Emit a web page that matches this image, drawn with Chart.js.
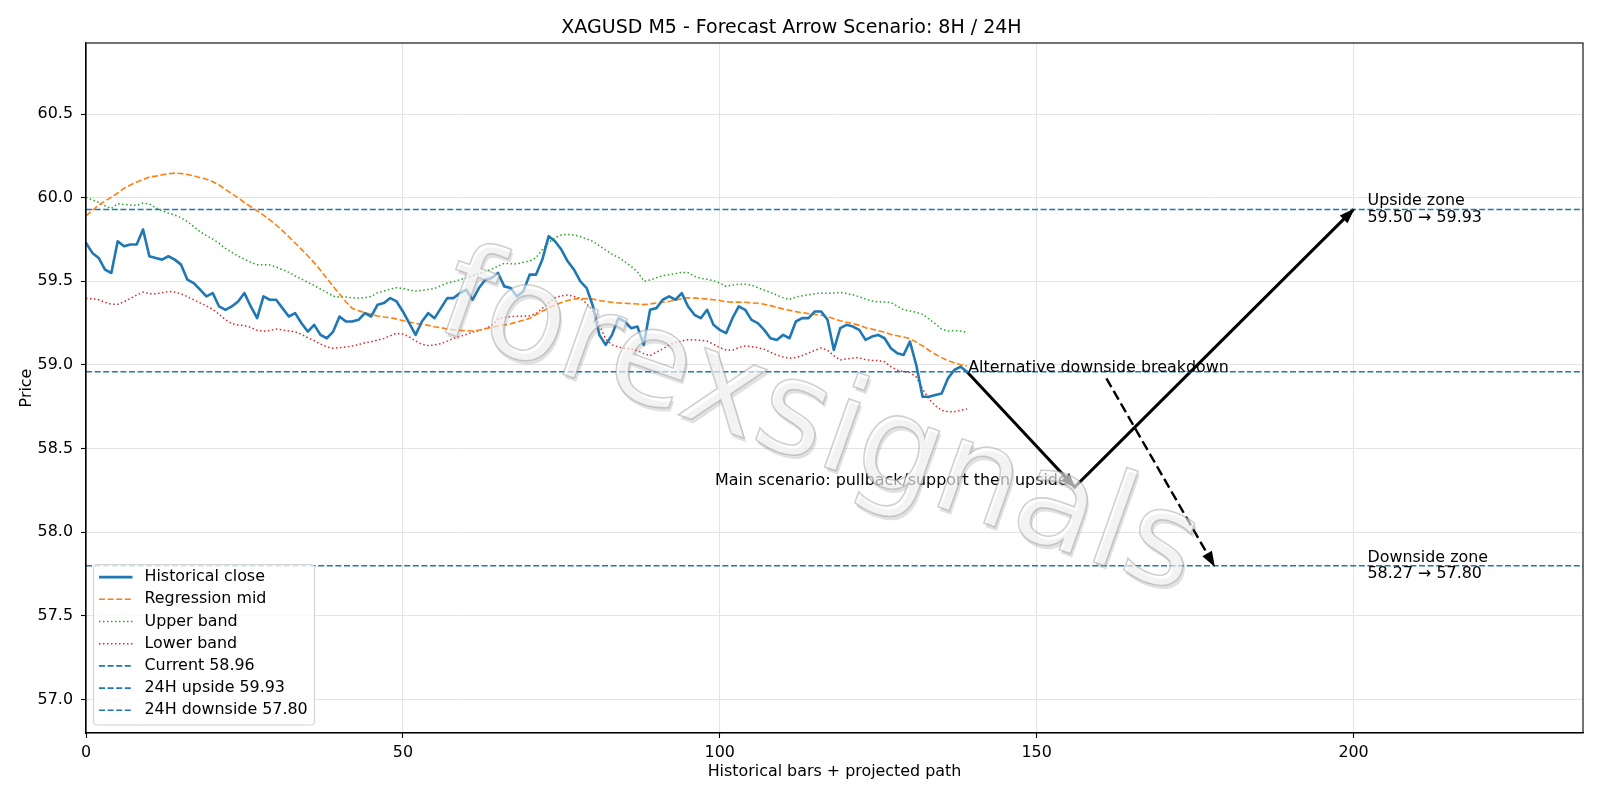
<!DOCTYPE html>
<html>
<head>
<meta charset="utf-8">
<script src="https://cdn.jsdelivr.net/npm/chart.js@4.4.1/dist/chart.umd.min.js"></script>
<style>
  html, body { margin: 0; padding: 0; background: #fff; }
</style>
</head>
<body>
<canvas id="myChart" width="1600" height="800"></canvas>
<script>
// values
const histClose = [
  59.73, 59.67, 59.64, 59.57, 59.55, 59.74, 59.71, 59.72, 59.72, 59.81,
  59.65, 59.64, 59.63, 59.65, 59.63, 59.60, 59.51, 59.49, 59.45, 59.41,
  59.43, 59.35, 59.33, 59.35, 59.38, 59.43, 59.35, 59.28, 59.41, 59.39,
  59.39, 59.34, 59.29, 59.31, 59.25, 59.20, 59.24, 59.18, 59.16, 59.20,
  59.29, 59.26, 59.26, 59.27, 59.31, 59.29, 59.36, 59.37, 59.40, 59.38,
  59.32, 59.25, 59.18, 59.26, 59.31, 59.28, 59.34, 59.40, 59.40, 59.43,
  59.45, 59.39, 59.46, 59.51, 59.52, 59.55, 59.47, 59.46, 59.41, 59.44,
  59.54, 59.54, 59.63, 59.77, 59.74, 59.69, 59.62, 59.57, 59.50, 59.46,
  59.35, 59.18, 59.12, 59.18, 59.28, 59.26, 59.22, 59.23, 59.12, 59.33,
  59.34, 59.39, 59.41, 59.39, 59.43, 59.35, 59.30, 59.28, 59.33, 59.24,
  59.21, 59.19, 59.28, 59.35, 59.33, 59.27, 59.25, 59.21, 59.16, 59.15,
  59.18, 59.16, 59.26, 59.28, 59.28, 59.32, 59.32, 59.27, 59.09, 59.22,
  59.24, 59.23, 59.21, 59.15, 59.17, 59.18, 59.16, 59.10, 59.07, 59.06,
  59.14, 59.00, 58.81, 58.81, 58.82, 58.83, 58.92, 58.97, 58.99, 58.96
];
const regressionMid = [
  59.892, 59.924, 59.956, 59.980, 60.004, 60.028, 60.056, 60.076, 60.094, 60.108,
  60.124, 60.129, 60.137, 60.143, 60.147, 60.145, 60.139, 60.131, 60.120, 60.110,
  60.096, 60.076, 60.050, 60.024, 60.000, 59.970, 59.946, 59.922, 59.896, 59.867,
  59.837, 59.803, 59.767, 59.729, 59.691, 59.653, 59.612, 59.566, 59.518, 59.470,
  59.424, 59.378, 59.339, 59.325, 59.313, 59.303, 59.293, 59.287, 59.283, 59.275,
  59.265, 59.257, 59.249, 59.243, 59.237, 59.229, 59.223, 59.215, 59.211, 59.207,
  59.205, 59.203, 59.209, 59.217, 59.225, 59.233, 59.239, 59.247, 59.257, 59.267,
  59.279, 59.301, 59.321, 59.341, 59.359, 59.373, 59.386, 59.394, 59.398, 59.396,
  59.394, 59.386, 59.380, 59.375, 59.371, 59.369, 59.367, 59.365, 59.361, 59.365,
  59.371, 59.375, 59.380, 59.388, 59.396, 59.402, 59.400, 59.398, 59.394, 59.390,
  59.386, 59.378, 59.376, 59.376, 59.375, 59.371, 59.369, 59.363, 59.355, 59.345,
  59.335, 59.327, 59.319, 59.313, 59.307, 59.303, 59.297, 59.289, 59.277, 59.265,
  59.255, 59.247, 59.237, 59.223, 59.215, 59.205, 59.195, 59.183, 59.175, 59.167,
  59.157, 59.137, 59.114, 59.088, 59.064, 59.044, 59.026, 59.014, 59.002, 58.994
];
const upperBand = [
  60.002, 59.988, 59.972, 59.952, 59.936, 59.964, 59.960, 59.956, 59.954, 59.968,
  59.962, 59.940, 59.922, 59.908, 59.896, 59.880, 59.857, 59.827, 59.797, 59.773,
  59.753, 59.727, 59.697, 59.673, 59.651, 59.633, 59.614, 59.600, 59.600, 59.598,
  59.586, 59.570, 59.554, 59.532, 59.514, 59.494, 59.476, 59.454, 59.434, 59.412,
  59.406, 59.406, 59.402, 59.400, 59.402, 59.410, 59.432, 59.442, 59.454, 59.462,
  59.458, 59.448, 59.442, 59.446, 59.452, 59.458, 59.474, 59.490, 59.498, 59.510,
  59.522, 59.534, 59.546, 59.558, 59.574, 59.590, 59.608, 59.606, 59.604, 59.614,
  59.622, 59.641, 59.689, 59.731, 59.761, 59.777, 59.781, 59.777, 59.767, 59.753,
  59.739, 59.713, 59.687, 59.663, 59.643, 59.618, 59.590, 59.558, 59.502, 59.508,
  59.522, 59.534, 59.540, 59.546, 59.554, 59.552, 59.530, 59.518, 59.512, 59.504,
  59.490, 59.470, 59.478, 59.482, 59.482, 59.478, 59.462, 59.448, 59.434, 59.418,
  59.402, 59.392, 59.406, 59.414, 59.420, 59.426, 59.430, 59.428, 59.430, 59.434,
  59.428, 59.420, 59.408, 59.394, 59.382, 59.378, 59.376, 59.374, 59.351, 59.331,
  59.323, 59.315, 59.303, 59.275, 59.247, 59.215, 59.203, 59.205, 59.203, 59.195
];
const lowerBand = [
  59.398, 59.396, 59.390, 59.375, 59.363, 59.363, 59.378, 59.398, 59.418, 59.436,
  59.426, 59.426, 59.432, 59.440, 59.436, 59.426, 59.408, 59.390, 59.371, 59.353,
  59.333, 59.303, 59.271, 59.247, 59.239, 59.235, 59.225, 59.207, 59.201, 59.207,
  59.215, 59.209, 59.203, 59.199, 59.183, 59.163, 59.145, 59.125, 59.108, 59.100,
  59.104, 59.108, 59.114, 59.122, 59.133, 59.139, 59.149, 59.159, 59.175, 59.189,
  59.185, 59.169, 59.143, 59.124, 59.116, 59.120, 59.127, 59.143, 59.159, 59.171,
  59.183, 59.197, 59.205, 59.219, 59.235, 59.275, 59.285, 59.289, 59.291, 59.293,
  59.293, 59.307, 59.339, 59.371, 59.402, 59.414, 59.418, 59.410, 59.398, 59.367,
  59.319, 59.239, 59.155, 59.120, 59.108, 59.100, 59.096, 59.086, 59.068, 59.056,
  59.076, 59.096, 59.120, 59.135, 59.143, 59.151, 59.151, 59.147, 59.143, 59.124,
  59.104, 59.090, 59.088, 59.104, 59.114, 59.110, 59.104, 59.094, 59.076, 59.060,
  59.048, 59.040, 59.044, 59.056, 59.072, 59.088, 59.102, 59.088, 59.056, 59.030,
  59.036, 59.042, 59.044, 59.032, 59.028, 59.026, 59.020, 58.990, 58.970, 58.960,
  58.956, 58.928, 58.857, 58.797, 58.757, 58.729, 58.721, 58.721, 58.729, 58.737
];

const currentPrice = 58.96;
const upsideZone = [59.50, 59.93];
const downsideZone = [58.27, 57.80];

// projected path: main scenario and the alternative breakdown
const mainPathX = [139, 156, 200];
const mainPathY = [58.96, 58.27, 59.93];
const altPathX = [161, 178];
const altPathY = [58.92, 57.80];

const xTickValues = [0, 50, 100, 150, 200];
const yTickValues = [57.0, 57.5, 58.0, 58.5, 59.0, 59.5, 60.0, 60.5];
const xMax = 236.2;

const FONT = "'DejaVu Sans', 'Liberation Sans', sans-serif";
const BLUE = '#1f77b4';
const FS = 15.9;   // tick / label / legend size

Chart.defaults.font.family = FONT;
Chart.defaults.color = '#000';

function toPoints(values) {
  return values.map((y, i) => ({ x: i, y: y }));
}

function hLine(value) {
  return [{ x: 0, y: value }, { x: xMax, y: value }];
}

function pathPoints(xs, ys) {
  return xs.map((x, i) => ({ x: x, y: ys[i] }));
}

const notes = [
  { x: 139.2, y: 58.985, lines: ['Alternative downside breakdown'], align: 'left' },
  { x: 154.9, y: 58.31, lines: ['Main scenario: pullback/support then upside'], align: 'right' },
  { x: 202.2, y: upsideZone[1], lines: ['Upside zone', `${upsideZone[0].toFixed(2)} → ${upsideZone[1].toFixed(2)}`], align: 'left' },
  { x: 202.2, y: downsideZone[1], lines: ['Downside zone', `${downsideZone[0].toFixed(2)} → ${downsideZone[1].toFixed(2)}`], align: 'left' }
];

const lineStyle = { pointRadius: 0, tension: 0, fill: false, borderCapStyle: 'butt' };

const datasets = [
  { ...lineStyle, label: 'Historical close', data: toPoints(histClose), borderColor: BLUE, borderWidth: 2.6, borderCapStyle: 'round', borderJoinStyle: 'round' },
  { ...lineStyle, label: 'Regression mid', data: toPoints(regressionMid), borderColor: '#ff7f0e', borderWidth: 1.6, borderDash: [6, 2.6] },
  { ...lineStyle, label: 'Upper band', data: toPoints(upperBand), borderColor: '#2ca02c', borderWidth: 1.5, borderDash: [1.5, 2.5] },
  { ...lineStyle, label: 'Lower band', data: toPoints(lowerBand), borderColor: '#d62728', borderWidth: 1.5, borderDash: [1.5, 2.5] },
  { ...lineStyle, label: 'Current ' + currentPrice.toFixed(2), data: hLine(currentPrice), borderColor: BLUE, borderWidth: 1.6, borderDash: [6, 2.6] },
  { ...lineStyle, label: '24H upside ' + upsideZone[1].toFixed(2), data: hLine(upsideZone[1]), borderColor: BLUE, borderWidth: 1.6, borderDash: [6, 2.6] },
  { ...lineStyle, label: '24H downside ' + downsideZone[1].toFixed(2), data: hLine(downsideZone[1]), borderColor: BLUE, borderWidth: 1.6, borderDash: [6, 2.6] },
  { ...lineStyle, label: 'main path', noLegend: true, arrowHeads: [1, 2], data: pathPoints(mainPathX, mainPathY), borderColor: '#000', borderWidth: 3 },
  { ...lineStyle, label: 'alt path', noLegend: true, arrowHeads: [1], data: pathPoints(altPathX, altPathY), borderColor: '#000', borderWidth: 2.4, borderDash: [10, 4.5] }
];

function drawArrowHeads(chart) {
  const ctx = chart.ctx;
  chart.data.datasets.forEach((ds, i) => {
    if (!ds.arrowHeads) return;
    const pts = chart.getDatasetMeta(i).data;
    ds.arrowHeads.forEach(k => {
      const tip = pts[k], from = pts[k - 1];
      const ang = Math.atan2(tip.y - from.y, tip.x - from.x);
      const len = 14, half = 5.5;
      ctx.save();
      ctx.translate(tip.x, tip.y);
      ctx.rotate(ang);
      ctx.beginPath();
      ctx.moveTo(1.5, 0);
      ctx.lineTo(-len, -half);
      ctx.lineTo(-len, half);
      ctx.closePath();
      ctx.fillStyle = '#000';
      ctx.fill();
      ctx.restore();
    });
  });
}

function drawNotes(chart) {
  const ctx = chart.ctx;
  const xs = chart.scales.x, ys = chart.scales.y;
  ctx.save();
  ctx.font = FS + 'px ' + FONT;
  ctx.fillStyle = '#000';
  ctx.textBaseline = 'middle';
  notes.forEach(n => {
    const px = xs.getPixelForValue(n.x);
    const py = ys.getPixelForValue(n.y);
    const lh = 16.5;
    const y0 = py - (n.lines.length - 1) * lh / 2;
    ctx.textAlign = n.align;
    n.lines.forEach((t, j) => ctx.fillText(t, px, y0 + j * lh));
  });
  ctx.restore();
}

function drawWatermark(chart) {
  const ctx = chart.ctx;
  ctx.save();
  ctx.translate(818, 428);
  ctx.rotate(19.5 * Math.PI / 180);
  ctx.font = '132px ' + FONT;
  ctx.textAlign = 'center';
  ctx.textBaseline = 'middle';
  const text = 'forexsignals';
  ctx.fillStyle = 'rgba(120,120,120,0.22)';
  ctx.fillText(text, 3, 3);
  ctx.fillStyle = 'rgba(255,255,255,0.6)';
  ctx.fillText(text, 0, 0);
  ctx.lineWidth = 1.6;
  ctx.strokeStyle = 'rgba(150,150,150,0.45)';
  ctx.strokeText(text, 0, 0);
  ctx.restore();
}

function drawLegend(chart) {
  const ctx = chart.ctx;
  const area = chart.chartArea;
  const items = chart.data.datasets.filter(d => !d.noLegend);
  const left = area.left + 7.5, bottom = area.bottom - 8;
  const w = 221, rowH = 22.2;
  const h = items.length * rowH + 5;
  const top = bottom - h;
  ctx.save();
  ctx.beginPath();
  ctx.roundRect(left, top, w, h, 3);
  ctx.fillStyle = 'rgba(255,255,255,0.8)';
  ctx.fill();
  ctx.strokeStyle = '#d0d0d0';
  ctx.lineWidth = 1;
  ctx.stroke();
  ctx.font = FS + 'px ' + FONT;
  ctx.textBaseline = 'middle';
  ctx.textAlign = 'left';
  items.forEach((d, j) => {
    const y = top + 12.5 + j * rowH;
    ctx.beginPath();
    ctx.setLineDash(d.borderDash || []);
    ctx.strokeStyle = d.borderColor;
    ctx.lineWidth = d.borderWidth;
    ctx.moveTo(left + 5.5, y);
    ctx.lineTo(left + 39, y);
    ctx.stroke();
    ctx.setLineDash([]);
    ctx.fillStyle = '#000';
    ctx.fillText(d.label, left + 51, y);
  });
  ctx.restore();
}

const overlayPlugin = {
  id: 'overlay',
  afterDatasetsDraw(chart) {
    const ctx = chart.ctx;
    const a = chart.chartArea;
    drawArrowHeads(chart);
    drawNotes(chart);
    drawWatermark(chart);
    ctx.save();
    ctx.strokeStyle = '#000';
    ctx.lineWidth = 1.1;
    ctx.strokeRect(a.left, a.top, a.right - a.left, a.bottom - a.top);
    ctx.restore();
    drawLegend(chart);
  }
};

const ctx = document.getElementById('myChart');
const myChart = new Chart(ctx, {
  type: 'line',
  data: { datasets: datasets },
  options: {
    responsive: false,
    animation: false,
    devicePixelRatio: 1,
    layout: { padding: { left: 0, right: 17, top: 0, bottom: 0 } },
    plugins: {
      legend: { display: false },
      tooltip: { enabled: false },
      title: {
        display: true,
        text: 'XAGUSD M5 - Forecast Arrow Scenario: 8H / 24H',
        color: '#000',
        font: { size: 19, weight: 'normal', lineHeight: 1.2 },
        padding: { top: 17, bottom: 3.2 }
      }
    },
    scales: {
      x: {
        type: 'linear',
        min: 0,
        max: xMax,
        afterBuildTicks: scale => { scale.ticks = xTickValues.map(v => ({ value: v })); },
        afterFit: scale => { scale.height = 67; },
        ticks: { color: '#000', font: { size: FS }, padding: 5, maxRotation: 0, autoSkip: false, callback: v => String(v) },
        grid: { color: '#e4e4e4', lineWidth: 1, tickLength: 5, tickColor: '#000', tickWidth: 1.1 },
        border: { display: true, color: '#000', width: 1.1 },
        title: { display: true, text: 'Historical bars + projected path', color: '#000', font: { size: FS }, padding: { top: 0, bottom: 18.5 } }
      },
      y: {
        type: 'linear',
        min: 56.80,
        max: 60.925,
        afterBuildTicks: scale => { scale.ticks = yTickValues.map(v => ({ value: v })); },
        afterFit: scale => { scale.width = 86; },
        ticks: { color: '#000', font: { size: FS }, padding: 8, callback: v => v.toFixed(1) },
        grid: { color: '#e4e4e4', lineWidth: 1, tickLength: 5, tickColor: '#000', tickWidth: 1.1 },
        border: { display: true, color: '#000', width: 1.1 },
        title: { display: true, text: 'Price', color: '#000', font: { size: FS }, padding: { top: 17, bottom: 0 } }
      }
    }
  },
  plugins: [overlayPlugin]
});
</script>
</body>
</html>
